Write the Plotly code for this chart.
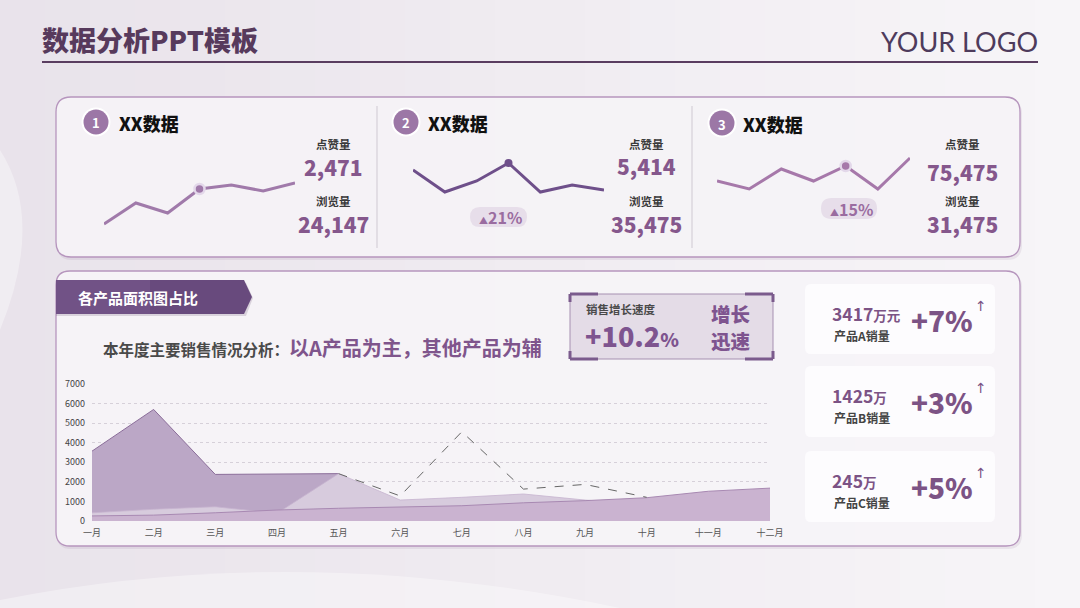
import plotly.graph_objects as go

W, H = 1080, 608
CJK = "Noto Sans CJK SC, Noto Sans, sans-serif"

# ---------------- data ----------------
months = ["一月", "二月", "三月", "四月", "五月", "六月", "七月", "八月", "九月", "十月", "十一月", "十二月"]
series_back = [3570, 5700, 2380, 2400, 2420]            # 一月–五月 (dark layer)
series_mid = [420, 600, 730, 390, 2420, 1070, 1210, 1380, 1070, 850, 1450, 1580]
series_front = [260, 300, 420, 560, 650, 730, 780, 930, 1040, 1190, 1520, 1680]
trend_start = 4                                          # dashed line starts at 五月
trend_values = [2420, 1280, 4560, 1630, 1870, 1210]
y_ticks = [0, 1000, 2000, 3000, 4000, 5000, 6000, 7000]

spark_values = [
    [6, 27, 17, 41, 45, 39, 47],
    [60, 38, 49, 67, 38, 45, 40],
    [49, 41, 61, 49, 64, 41, 72],
]
spark_highlight = [3, 3, 4]
card_titles = ["XX数据", "XX数据", "XX数据"]
likes = ["2,471", "5,414", "75,475"]
views = ["24,147", "35,475", "31,475"]
pill_texts = [None, "21%", "15%"]

growth_rate = "+10.2"
product_amounts = [("3417", "万元"), ("1425", "万"), ("245", "万")]
product_names = ["产品A销量", "产品B销量", "产品C销量"]
product_growth = ["+7%", "+3%", "+5%"]

# ---------------- helpers ----------------
def X(x):
    return x / W

def Y(y):
    return 1 - y / H

def rrect(x0, y0, x1, y1, r):
    return (f"M {X(x0 + r)},{Y(y0)} L {X(x1 - r)},{Y(y0)} Q {X(x1)},{Y(y0)} {X(x1)},{Y(y0 + r)} "
            f"L {X(x1)},{Y(y1 - r)} Q {X(x1)},{Y(y1)} {X(x1 - r)},{Y(y1)} "
            f"L {X(x0 + r)},{Y(y1)} Q {X(x0)},{Y(y1)} {X(x0)},{Y(y1 - r)} "
            f"L {X(x0)},{Y(y0 + r)} Q {X(x0)},{Y(y0)} {X(x0 + r)},{Y(y0)} Z")

shapes = []
annotations = []

def add_path(path, fill=None, line_color=None, line_width=0, opacity=1):
    shapes.append(dict(type="path", path=path, xref="paper", yref="paper", layer="below",
                       fillcolor=fill if fill else "rgba(0,0,0,0)",
                       line=dict(color=line_color if line_color else "rgba(0,0,0,0)", width=line_width),
                       opacity=opacity))

def add_line(x0, y0, x1, y1, color, width):
    shapes.append(dict(type="line", x0=X(x0), y0=Y(y0), x1=X(x1), y1=Y(y1), xref="paper", yref="paper",
                       layer="below", line=dict(color=color, width=width)))

def add_circle(cx, cy, r, fill, line_color=None, line_width=0):
    shapes.append(dict(type="circle", x0=X(cx - r), x1=X(cx + r), y0=Y(cy + r), y1=Y(cy - r),
                       xref="paper", yref="paper", layer="below", fillcolor=fill,
                       line=dict(color=line_color if line_color else "rgba(0,0,0,0)", width=line_width)))

def txt(x, y, text, size, color, xanchor="left", bold=True, family=CJK, weight=None):
    font = dict(size=size, color=color, family=family)
    if weight:
        font["weight"] = weight
        label = text
    else:
        label = f"<b>{text}</b>" if bold else text
    annotations.append(dict(x=X(x), y=Y(y), xref="paper", yref="paper",
                            text=label, showarrow=False,
                            xanchor=xanchor, yanchor="middle", borderpad=0, font=font))

# ---------------- background ----------------
N = 24
for i in range(N):
    shapes.append(dict(type="rect", x0=i / N, x1=(i + 1) / N, y0=0, y1=1, xref="paper", yref="paper",
                       layer="below", fillcolor="white", line=dict(width=0), opacity=0.05 + 0.6 * i / (N - 1)))
# faint swooshes
add_path(f"M {X(0)},{Y(150)} Q {X(45)},{Y(220)} {X(0)},{Y(330)} Z", fill="white", opacity=0.35)
add_path(f"M {X(0)},{Y(600)} Q {X(300)},{Y(540)} {X(620)},{Y(608)} L {X(0)},{Y(608)} Z", fill="white", opacity=0.35)

# ---------------- header ----------------
txt(41, 40, "数据分析PPT模板", 27, "#573a5c", weight=900)
add_line(42, 62, 1038, 62, "#5a3d60", 2.2)
txt(1039, 41, "YOUR LOGO", 27, "#4e3b5c", xanchor="right", bold=False, family="Lato, Noto Sans, sans-serif")

# ---------------- top card ----------------
add_path(rrect(57, 99, 1022, 260, 15), fill="rgba(120,80,130,0.10)")
add_path(rrect(56, 97, 1020, 257, 15), fill="rgba(246,244,247,0.92)", line_color="#b695bd", line_width=1.3)
add_line(377, 106, 377, 248, "#cfc9d2", 1)
add_line(692, 106, 692, 248, "#cfc9d2", 1)

card_layout = [
    dict(circle=(96, 122), title_x=118, stat_x=333, like_y=167, sx=(104, 295), line="#a07aaa",
         pill=None, halo=True),
    dict(circle=(406, 122), title_x=427, stat_x=646, like_y=166, sx=(413, 604), line="#6e4f8a",
         pill=(470, 207, 527, 227), halo=False),
    dict(circle=(722, 123), title_x=742, stat_x=962, like_y=172, sx=(717, 910), line="#a678aa",
         pill=(821, 198, 877, 219), halo=True),
]

for i, c in enumerate(card_layout):
    cx, cy = c["circle"]
    add_circle(cx, cy, 14.5, "white")
    add_circle(cx, cy, 12.5, "#9c77a6")
    txt(cx, cy + 1, str(i + 1), 13, "white", xanchor="center")
    txt(c["title_x"], cy + 1, card_titles[i], 18, "#111111", weight=900)
    txt(c["stat_x"], 144, "点赞量", 11.5, "#3a3a3a", xanchor="center")
    txt(c["stat_x"], c["like_y"], likes[i], 21, "#85578c", xanchor="center", weight=900)
    txt(c["stat_x"], 201, "浏览量", 11.5, "#3a3a3a", xanchor="center")
    txt(c["stat_x"], 224, views[i], 21, "#85578c", xanchor="center", weight=900)
    if c["pill"]:
        x0, y0, x1, y1 = c["pill"]
        add_path(rrect(x0, y0, x1, y1, (y1 - y0) / 2), fill="#e7deea")
        txt((x0 + x1) / 2 + 2, (y0 + y1) / 2,
            f"<span style='font-size:9px'>▲</span>{pill_texts[i]}", 16, "#9a6ca0", xanchor="center")

# ---------------- bottom card ----------------
add_path(rrect(57, 273, 1022, 549, 14), fill="rgba(120,80,130,0.10)")
add_path(rrect(56, 271, 1020, 546, 14), fill="rgba(247,245,248,0.92)", line_color="#b695bd", line_width=1.3)

# ribbon
add_path(f"M {X(56)},{Y(283)} L {X(246)},{Y(283)} L {X(253)},{Y(298)} L {X(246)},{Y(316)} L {X(56)},{Y(316)} Z",
         fill="rgba(90,60,100,0.18)")
add_path(f"M {X(56)},{Y(280)} L {X(244)},{Y(280)} L {X(252)},{Y(297)} L {X(244)},{Y(314)} L {X(56)},{Y(314)} Z",
         fill="#684a7d")
add_path(f"M {X(56)},{Y(280)} L {X(150)},{Y(280)} L {X(150)},{Y(314)} L {X(56)},{Y(314)} Z",
         fill="#7a5a8f", opacity=0.5)
txt(77, 298, "各产品面积图占比", 15, "white")

# subtitle
annotations.append(dict(x=X(101), y=Y(348), xref="paper", yref="paper", showarrow=False,
                        xanchor="left", yanchor="middle",
                        text="<b>本年度主要销售情况分析：</b><b><span style='font-size:20px;color:#7f558c'>以A产品为主，其他产品为辅</span></b>",
                        font=dict(size=15.5, color="#4a4a4a", family=CJK)))

# growth box
add_path(rrect(570, 294, 773, 359, 0), fill="#e4dce7", line_color="#a690b1", line_width=1)
bc = "#7b5b8d"
for (x0, y0, x1, y1) in [(570, 294, 598, 294), (570, 294, 570, 302), (745, 294, 773, 294), (773, 294, 773, 302),
                         (570, 359, 598, 359), (570, 359, 570, 351), (745, 359, 773, 359), (773, 359, 773, 351)]:
    add_line(x0, y0, x1, y1, bc, 3)
txt(585, 309, "销售增长速度", 11.5, "#4a4a4a")
annotations.append(dict(x=X(584), y=Y(335), xref="paper", yref="paper", showarrow=False, xanchor="left",
                        yanchor="middle", borderpad=0,
                        text=f"{growth_rate}<span style='font-size:19px'>%</span>",
                        font=dict(size=27, color="#7e548f", family=CJK, weight=900)))
txt(731, 313, "增长", 19.5, "#7e548f", xanchor="center", weight=900)
txt(731, 340, "迅速", 19.5, "#7e548f", xanchor="center", weight=900)

# right product cards
card_y = [(284, 354), (366, 437), (451, 522)]
for i, (y0, y1) in enumerate(card_y):
    add_path(rrect(805, y0, 995, y1, 6), fill="rgba(253,252,254,0.95)")
    num, unit = product_amounts[i]
    annotations.append(dict(x=X(831), y=Y(y0 + 29), xref="paper", yref="paper", showarrow=False,
                            xanchor="left", yanchor="middle", borderpad=0,
                            text=f"<b>{num}<span style='font-size:13.5px'>{unit}</span></b>",
                            font=dict(size=17.5, color="#7c5385", family=CJK)))
    txt(833, y0 + 51, product_names[i], 12, "#444444")
    txt(942, y0 + 36, product_growth[i], 28, "#7c5385", xanchor="center", weight=900)
    txt(981, y0 + 22, "↑", 14, "#7c5385", xanchor="center", bold=False, family="DejaVu Sans")

# ---------------- traces ----------------
fig = go.Figure()
xs = list(range(len(months)))

fig.add_trace(go.Scatter(x=xs[:len(series_back)], y=series_back, mode="lines", fill="tozeroy",
                         fillcolor="#bba7c6", line=dict(color="#8a6c99", width=1), hoverinfo="skip",
                         xaxis="x", yaxis="y"))
fig.add_trace(go.Scatter(x=xs, y=series_mid, mode="lines", fill="tozeroy",
                         fillcolor="#d7cbdd", line=dict(color="#c7b4cf", width=0.8), hoverinfo="skip",
                         xaxis="x", yaxis="y"))
fig.add_trace(go.Scatter(x=xs, y=series_front, mode="lines", fill="tozeroy",
                         fillcolor="#cab3d0", line=dict(color="#a889b2", width=1), hoverinfo="skip",
                         xaxis="x", yaxis="y"))
fig.add_trace(go.Scatter(x=xs[trend_start:trend_start + len(trend_values)], y=trend_values, mode="lines",
                         line=dict(color="#666666", width=1, dash="dash"), hoverinfo="skip",
                         xaxis="x", yaxis="y"))

for i, vals in enumerate(spark_values):
    ax = str(i + 2)
    c = card_layout[i]
    fig.add_trace(go.Scatter(x=list(range(len(vals))), y=vals, mode="lines",
                             line=dict(color=c["line"], width=3), hoverinfo="skip",
                             xaxis="x" + ax, yaxis="y" + ax))
    h = spark_highlight[i]
    if c["halo"]:
        mk = dict(size=10, color=c["line"], line=dict(color="#e3d8ea", width=2.5))
    else:
        mk = dict(size=8, color=c["line"], line=dict(width=0))
    fig.add_trace(go.Scatter(x=[h], y=[vals[h]], mode="markers", marker=mk,
                             hoverinfo="skip", xaxis="x" + ax, yaxis="y" + ax))

layout = dict(
    width=W, height=H, autosize=False,
    margin=dict(l=0, r=0, t=0, b=0, pad=0, autoexpand=False),
    paper_bgcolor="#e8e2ea", plot_bgcolor="rgba(0,0,0,0)",
    showlegend=False,
    font=dict(family=CJK),
    shapes=shapes, annotations=annotations,
    xaxis=dict(domain=[X(92), X(770)], range=[0, 11], tickvals=xs, ticktext=months,
               showgrid=False, zeroline=False, showline=False, ticks="", ticklabelstandoff=5,
               tickfont=dict(size=9, color="#555555", family=CJK), anchor="y", fixedrange=True,
               automargin=False),
    yaxis=dict(domain=[Y(521), Y(384)], range=[0, 7000], tickvals=y_ticks, ticktext=[str(v) for v in y_ticks],
               showgrid=True, gridcolor="#d6d0d9", griddash="dot", gridwidth=1, zeroline=False,
               showline=False, ticks="", ticklabelstandoff=6,
               tickfont=dict(size=9, color="#444444", family=CJK), anchor="x", fixedrange=True,
               automargin=False),
)
for i, c in enumerate(card_layout):
    ax = str(i + 2)
    x0, x1 = c["sx"]
    layout["xaxis" + ax] = dict(domain=[X(x0), X(x1)], range=[0, 6], visible=False, anchor="y" + ax,
                                automargin=False)
    layout["yaxis" + ax] = dict(domain=[Y(230), Y(150)], range=[0, 80], visible=False, anchor="x" + ax,
                                automargin=False)

fig.update_layout(**layout)
fig.write_html("out.html")
